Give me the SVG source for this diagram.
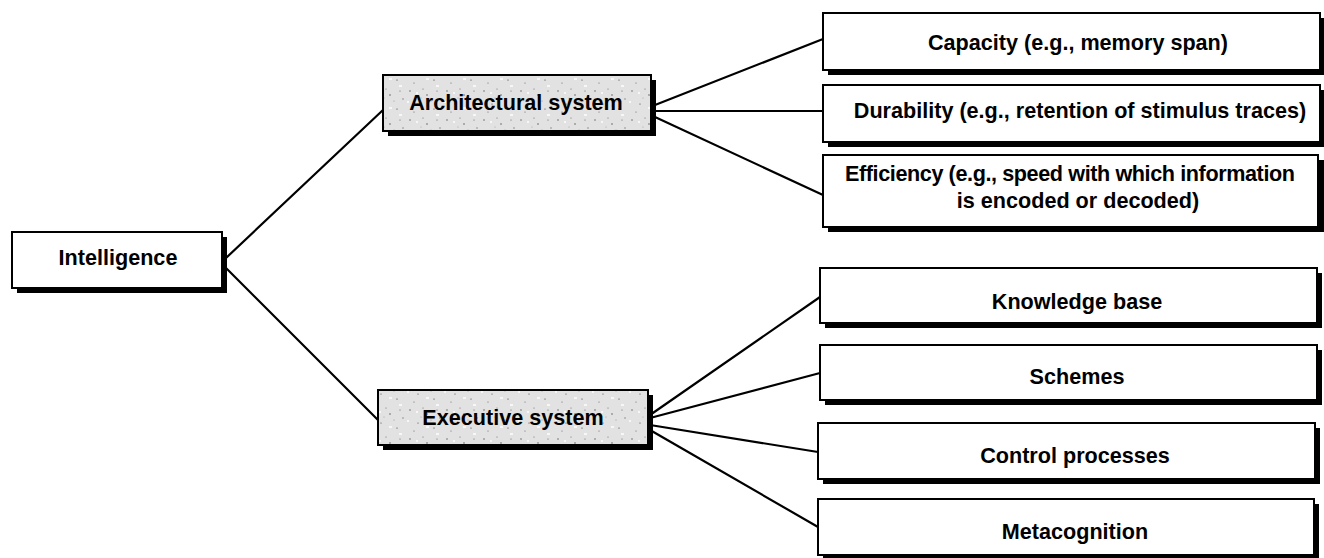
<svg xmlns="http://www.w3.org/2000/svg" width="1324" height="558" viewBox="0 0 1324 558">
<style>
  .box { fill: #ffffff; stroke: #000; stroke-width: 2; }
  .gbox { fill: url(#speckle); stroke: #000; stroke-width: 2; }
  .shadow { fill: #000; }
  .lbl { font-family: "Liberation Sans", Arial, Helvetica, sans-serif; font-weight: bold; font-size: 21.6px; fill: #000; text-anchor: middle; }
  .conn line { stroke: #000; stroke-width: 2.2; stroke-linecap: round; }
</style>
<defs>
  <pattern id="speckle" patternUnits="userSpaceOnUse" width="37" height="29">
    <rect width="37" height="29" fill="#e2e2e2"/>
    <circle cx="3" cy="4" r="0.7" fill="#555"/>
    <circle cx="11" cy="17" r="0.6" fill="#444"/>
    <circle cx="20" cy="8" r="0.8" fill="#666"/>
    <circle cx="27" cy="22" r="0.6" fill="#333"/>
    <circle cx="33" cy="12" r="0.7" fill="#777"/>
    <circle cx="7" cy="25" r="0.6" fill="#666"/>
    <circle cx="16" cy="2" r="0.5" fill="#555"/>
    <circle cx="24" cy="14" r="0.5" fill="#888"/>
    <circle cx="30" cy="4" r="0.6" fill="#666"/>
    <circle cx="14" cy="11" r="0.5" fill="#999"/>
    <rect x="0" y="14" width="2" height="2" fill="#f7f7f7"/>
    <rect x="19" y="20" width="3" height="2" fill="#f7f7f7"/>
    <rect x="9" y="5" width="2" height="2" fill="#f7f7f7"/>
    <rect x="29" y="27" width="3" height="2" fill="#f7f7f7"/>
  </pattern>
</defs>
<rect width="1324" height="558" fill="#ffffff"/>

<g id="connectors" class="conn">
  <line x1="226" y1="258" x2="383" y2="110"/>
  <line x1="226" y1="268" x2="378" y2="420"/>
  <line x1="655" y1="105" x2="823" y2="39"/>
  <line x1="655" y1="111" x2="823" y2="111"/>
  <line x1="655" y1="117" x2="823" y2="195"/>
  <line x1="650" y1="415" x2="820" y2="297"/>
  <line x1="650" y1="418" x2="820" y2="373"/>
  <line x1="650" y1="425" x2="818" y2="452"/>
  <line x1="650" y1="430" x2="818" y2="527"/>
</g>

<g id="intelligence">
  <rect class="shadow" x="17" y="237" width="210" height="56"/>
  <rect class="box" x="12" y="232" width="210" height="56"/>
  <text class="lbl" x="118" y="265">Intelligence</text>
</g>

<g id="architectural">
  <rect class="shadow" x="388" y="80" width="268" height="56"/>
  <rect class="gbox" x="383" y="75" width="268" height="56"/>
  <text class="lbl" x="516" y="110">Architectural system</text>
</g>

<g id="executive">
  <rect class="shadow" x="383" y="395" width="270" height="55"/>
  <rect class="gbox" x="378" y="390" width="270" height="55"/>
  <text class="lbl" x="513" y="425">Executive system</text>
</g>

<g id="capacity">
  <rect class="shadow" x="828" y="18" width="497" height="57"/>
  <rect class="box" x="823" y="13" width="497" height="57"/>
  <text class="lbl" x="1078" y="50">Capacity (e.g., memory span)</text>
</g>

<g id="durability">
  <rect class="shadow" x="828" y="90" width="497" height="57"/>
  <rect class="box" x="823" y="85" width="497" height="57"/>
  <text class="lbl" x="1080" y="118">Durability (e.g., retention of stimulus traces)</text>
</g>

<g id="efficiency">
  <rect class="shadow" x="828" y="160" width="496" height="72"/>
  <rect class="box" x="823" y="155" width="495" height="72"/>
  <text class="lbl" x="1070" y="181" textLength="450" lengthAdjust="spacing">Efficiency (e.g., speed with which information</text>
  <text class="lbl" x="1078" y="208">is encoded or decoded)</text>
</g>

<g id="knowledge-base">
  <rect class="shadow" x="825" y="273" width="497" height="55"/>
  <rect class="box" x="820" y="268" width="497" height="55"/>
  <text class="lbl" x="1077" y="309">Knowledge base</text>
</g>

<g id="schemes">
  <rect class="shadow" x="825" y="350" width="497" height="55"/>
  <rect class="box" x="820" y="345" width="497" height="55"/>
  <text class="lbl" x="1077" y="384">Schemes</text>
</g>

<g id="control-processes">
  <rect class="shadow" x="823" y="428" width="497" height="56"/>
  <rect class="box" x="818" y="423" width="497" height="56"/>
  <text class="lbl" x="1075" y="463">Control processes</text>
</g>

<g id="metacognition">
  <rect class="shadow" x="823" y="504" width="496" height="54"/>
  <rect class="box" x="818" y="499" width="496" height="56"/>
  <text class="lbl" x="1075" y="539">Metacognition</text>
</g>
</svg>
